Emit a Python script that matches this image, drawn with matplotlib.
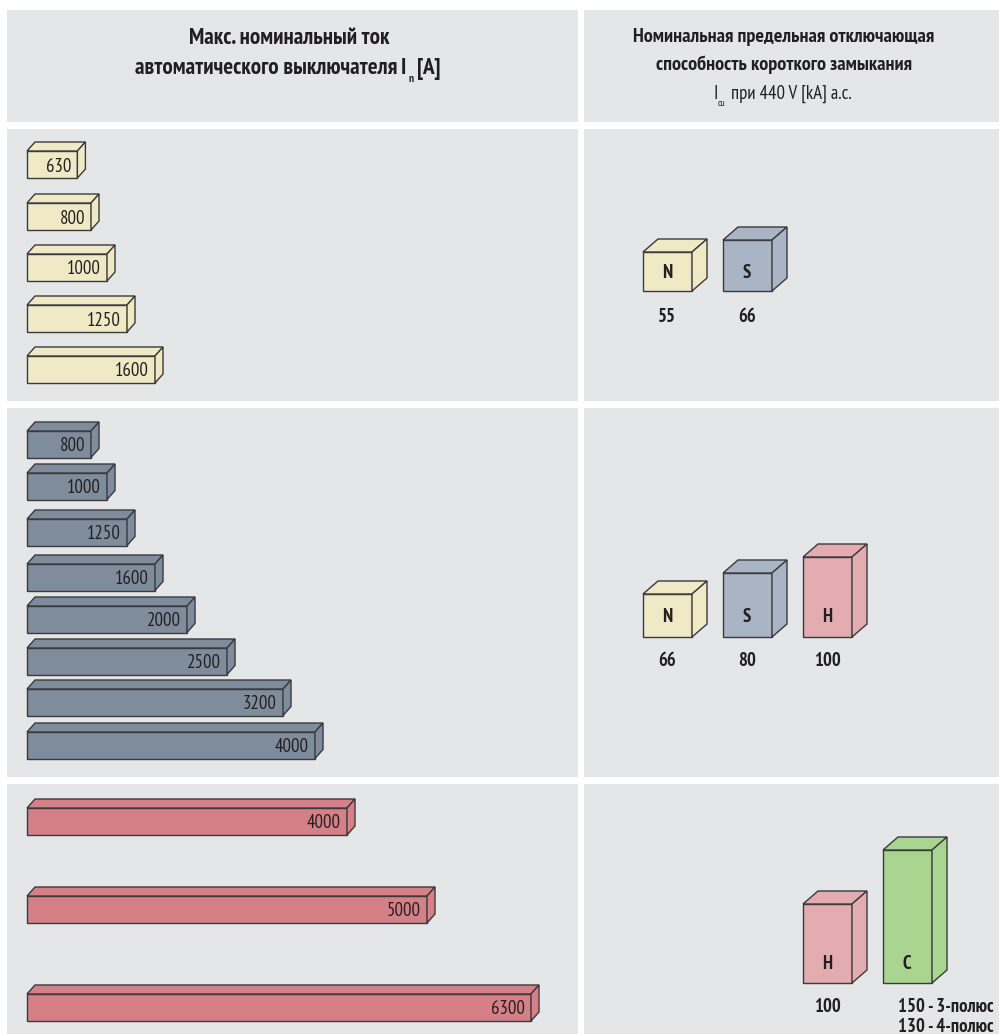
import matplotlib
matplotlib.use('Agg')
import matplotlib.pyplot as plt
from matplotlib.patches import Polygon, Rectangle

plt.rcParams['font.family'] = ['PT Sans Narrow', 'Roboto Condensed', 'DejaVu Sans']

# left column: rated current per frame
yellow_labels = ['630', '800', '1000', '1250', '1600']
yellow_amps = [630, 800, 1000, 1250, 1600]
dark_labels = ['800', '1000', '1250', '1600', '2000', '2500', '3200', '4000']
dark_amps = [800, 1000, 1250, 1600, 2000, 2500, 3200, 3600]  # the 4000 bar is drawn short in the source
red_labels = ['4000', '5000', '6300']
red_amps = [4000, 5000, 6300]

# right column: breaking capacity classes
row1_classes = ['N', 'S']
row1_ka = ['55', '66']
row2_classes = ['N', 'S', 'H']
row2_ka = ['66', '80', '100']
row3_classes = ['H', 'C']
row3_ka = ['100', '150 - 3-полюс\n130 - 4-полюс']

W, H = 999, 1034
PANEL = '#e5e6e8'
TEXT = '#231f20'
EDGE = '#3a3a3c'
LW = 1.0
PX_PER_AMP = 0.08
BAR_LEFT = 27

fig = plt.figure(figsize=(W / 100, H / 100), dpi=100)

# background in pixels
bg = fig.add_axes([0, 0, 1, 1])
bg.set_xlim(0, W)
bg.set_ylim(H, 0)
bg.axis('off')
for x0, x1 in [(7, 578), (584, 999)]:
    for y0, y1 in [(10, 122), (129, 401), (408, 777), (784, 1034)]:
        bg.add_patch(Rectangle((x0, y0), x1 - x0, y1 - y0, fc=PANEL, ec='none'))

# left axes: x is amps, y is pixel rows
left = fig.add_axes([0, 0, 1, 1])
left.set_xlim(-BAR_LEFT / PX_PER_AMP, (W - BAR_LEFT) / PX_PER_AMP)
left.set_ylim(H, 0)
left.axis('off')


def draw_bars(amps, labels, tops, height, color, dy):
    dx = 8 / PX_PER_AMP
    left.barh(tops, amps, height=height, align='edge', color=color, edgecolor=EDGE, linewidth=LW)
    for v, t, lab in zip(amps, tops, labels):
        top = [(0, t), (v, t), (v + dx, t - dy), (dx, t - dy)]
        side = [(v, t), (v + dx, t - dy), (v + dx, t + height - dy), (v, t + height)]
        left.add_patch(Polygon(top, fc=color, ec=EDGE, lw=LW))
        left.add_patch(Polygon(side, fc=color, ec=EDGE, lw=LW))
        left.text(v - 6 / PX_PER_AMP, t + height / 2, lab, ha='right', va='center_baseline',
                  fontsize=13.5, color=TEXT)


draw_bars(yellow_amps, yellow_labels, [151, 203, 254, 305, 356], 27, '#f0e9c6', 9)
draw_bars(dark_amps, dark_labels, [431, 473, 519, 564, 606, 648, 689, 732], 26.5, '#7f8c9c', 9)
draw_bars(red_amps, red_labels, [808, 896, 994], 27, '#d57f87', 9)

# right axes: pixels, pictogram boxes
right = fig.add_axes([0, 0, 1, 1])
right.set_xlim(0, W)
right.set_ylim(H, 0)
right.axis('off')

box_colors = {'N': '#f0e9c6', 'S': '#a9b4c5', 'H': '#e2acb0', 'C': '#aad591'}
slot_x = [643, 723, 803, 883]
slot_of = {'N': 0, 'S': 1, 'H': 2, 'C': 3}


def draw_boxes(classes, ka, heights, bottom, letter_up, value_down):
    w, dx, dy = 49, 15, 13
    for cl, val, h in zip(classes, ka, heights):
        x = slot_x[slot_of[cl]]
        c = box_colors[cl]
        t = bottom - h
        right.add_patch(Rectangle((x, t), w, h, fc=c, ec=EDGE, lw=LW))
        right.add_patch(Polygon([(x, t), (x + w, t), (x + w + dx, t - dy), (x + dx, t - dy)], fc=c, ec=EDGE, lw=LW))
        right.add_patch(Polygon([(x + w, t), (x + w + dx, t - dy), (x + w + dx, bottom - dy), (x + w, bottom)], fc=c, ec=EDGE, lw=LW))
        right.text(x + w / 2 - 0.5, bottom - letter_up, cl, ha='center', va='center', fontsize=13.5, fontweight='bold', color=TEXT)
        if '\n' in val:
            first, second = val.split('\n')
            right.text(x + 15, bottom + 23.5, first, ha='left', va='center', fontsize=13.5, fontweight='bold', color=TEXT)
            right.text(x + 15, bottom + 43.5, second, ha='left', va='center', fontsize=13.5, fontweight='bold', color=TEXT)
        else:
            right.text(x + w / 2 - 0.5, bottom + value_down, val, ha='center', va='center', fontsize=13.5, fontweight='bold', color=TEXT)


draw_boxes(row1_classes, row1_ka, [39, 51], 291, 18, 25.5)
draw_boxes(row2_classes, row2_ka, [43, 64, 80], 637, 20, 23.5)
draw_boxes(row3_classes, row3_ka, [79, 133], 983, 19, 23.5)

# headers
bold = dict(va='center', fontweight='bold', color=TEXT)
right.text(289, 39, 'Макс. номинальный ток', ha='center', fontsize=16.7, **bold)
right.text(397, 69, 'автоматического выключателя', ha='right', fontsize=16.7, **bold)
right.text(403, 69, 'I', ha='center', fontsize=16.7, **bold)
right.text(411, 79, 'n', ha='center', fontsize=8, **bold)
right.text(417, 69, '[A]', ha='left', fontsize=16.7, **bold)
right.text(783.5, 37, 'Номинальная предельная отключающая', ha='center', fontsize=14.6, **bold)
right.text(783.5, 65, 'способность короткого замыкания', ha='center', fontsize=14.6, **bold)
right.text(716, 94, 'I', ha='center', va='center', fontsize=13.5, color=TEXT)
right.text(722, 103, 'cu', ha='center', va='center', fontsize=7, color=TEXT)
right.text(731, 94, 'при 440 V [kA] a.c.', ha='left', va='center', fontsize=13.5, color=TEXT)

fig.savefig('out.png', dpi=100)
